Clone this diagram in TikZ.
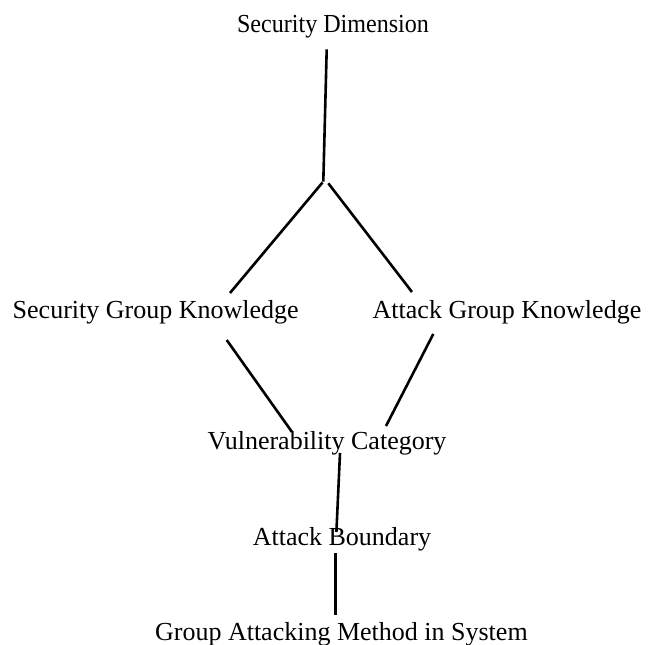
\documentclass[tikz,border=0pt]{standalone}
\usepackage{fontspec}
\setmainfont{Liberation Serif}
\begin{document}
\begin{tikzpicture}[x=1pt,y=-1pt,
  lbl/.style={inner sep=0pt,anchor=base,font=\fontsize{26}{30}\selectfont},
  conn/.style={line width=2.6pt,black}]
\useasboundingbox (0,0) rectangle (648,645);
% labels
\node[lbl,xscale=0.926] (sd) at (333,32.3) {Security Dimension};
\node[lbl] (sgk) at (155.7,318.3) {Security Group Knowledge};
\node[lbl] (agk) at (507,318.3) {Attack Group Knowledge};
\node[lbl] (vc) at (327,449.3) {Vulnerability Category};
\node[lbl] (ab) at (342,545) {Attack Boundary};
\node[lbl] (gam) at (341.4,640) {Group Attacking Method in System};
% connector ends
\coordinate (sdB) at (326.7,49.3);
\coordinate (jc) at (323.3,181.7);
\coordinate (jL) at (322.5,182.5);
\coordinate (jR) at (328.3,183.3);
\coordinate (sgkT) at (230,293);
\coordinate (agkT) at (412,292);
\coordinate (sgkB) at (226.7,340);
\coordinate (agkB) at (433.3,334);
\coordinate (vcL) at (292,432);
\coordinate (vcR) at (386,426);
\coordinate (vcB) at (340,453);
\coordinate (abT) at (336.4,532);
\coordinate (abB) at (335.5,553.3);
\coordinate (gamT) at (335.5,615);
% connectors
\draw[conn] (sdB) -- (jc);
\draw[conn] (jL) -- (sgkT);
\draw[conn] (jR) -- (agkT);
\draw[conn] (sgkB) -- (vcL);
\draw[conn] (agkB) -- (vcR);
\draw[conn] (vcB) -- (abT);
\draw[conn] (abB) -- (gamT);
\end{tikzpicture}
\end{document}
